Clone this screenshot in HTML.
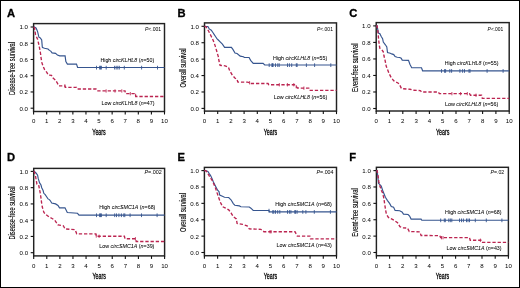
<!DOCTYPE html><html><head><meta charset="utf-8"><style>html,body{margin:0;padding:0;background:#fff;}svg{display:block;will-change:transform;}text{font-family:"Liberation Sans",sans-serif;}</style></head><body>
<svg width="520" height="288" viewBox="0 0 520 288">
<rect x="0" y="0" width="520" height="288" fill="#fff"/>
<rect x="0.5" y="0.5" width="519" height="287" fill="none" stroke="#000" stroke-width="1"/>
<g><text x="7" y="16.9" font-size="11.2" font-weight="bold" fill="#000" stroke="#000" stroke-width="0.3">A</text><rect x="33.6" y="23.6" width="130.9" height="87.9" fill="none" stroke="#222" stroke-width="1.45"/><line x1="30.6" y1="108.2" x2="33.6" y2="108.2" stroke="#111" stroke-width="1.1"/><text x="28" y="110.6" font-size="6.1" text-anchor="end" fill="#000">0.0</text><line x1="30.6" y1="91.96" x2="33.6" y2="91.96" stroke="#111" stroke-width="1.1"/><text x="28" y="94.36" font-size="6.1" text-anchor="end" fill="#000">0.2</text><line x1="30.6" y1="75.72" x2="33.6" y2="75.72" stroke="#111" stroke-width="1.1"/><text x="28" y="78.12" font-size="6.1" text-anchor="end" fill="#000">0.4</text><line x1="30.6" y1="59.48" x2="33.6" y2="59.48" stroke="#111" stroke-width="1.1"/><text x="28" y="61.88" font-size="6.1" text-anchor="end" fill="#000">0.6</text><line x1="30.6" y1="43.24" x2="33.6" y2="43.24" stroke="#111" stroke-width="1.1"/><text x="28" y="45.64" font-size="6.1" text-anchor="end" fill="#000">0.8</text><line x1="30.6" y1="27" x2="33.6" y2="27" stroke="#111" stroke-width="1.1"/><text x="28" y="29.4" font-size="6.1" text-anchor="end" fill="#000">1.0</text><line x1="33.6" y1="111.5" x2="33.6" y2="114.5" stroke="#111" stroke-width="1.1"/><text x="33.6" y="123.3" font-size="6.1" text-anchor="middle" fill="#000">0</text><line x1="46.69" y1="111.5" x2="46.69" y2="114.5" stroke="#111" stroke-width="1.1"/><text x="46.69" y="123.3" font-size="6.1" text-anchor="middle" fill="#000">1</text><line x1="59.78" y1="111.5" x2="59.78" y2="114.5" stroke="#111" stroke-width="1.1"/><text x="59.78" y="123.3" font-size="6.1" text-anchor="middle" fill="#000">2</text><line x1="72.87" y1="111.5" x2="72.87" y2="114.5" stroke="#111" stroke-width="1.1"/><text x="72.87" y="123.3" font-size="6.1" text-anchor="middle" fill="#000">3</text><line x1="85.96" y1="111.5" x2="85.96" y2="114.5" stroke="#111" stroke-width="1.1"/><text x="85.96" y="123.3" font-size="6.1" text-anchor="middle" fill="#000">4</text><line x1="99.05" y1="111.5" x2="99.05" y2="114.5" stroke="#111" stroke-width="1.1"/><text x="99.05" y="123.3" font-size="6.1" text-anchor="middle" fill="#000">5</text><line x1="112.14" y1="111.5" x2="112.14" y2="114.5" stroke="#111" stroke-width="1.1"/><text x="112.14" y="123.3" font-size="6.1" text-anchor="middle" fill="#000">6</text><line x1="125.23" y1="111.5" x2="125.23" y2="114.5" stroke="#111" stroke-width="1.1"/><text x="125.23" y="123.3" font-size="6.1" text-anchor="middle" fill="#000">7</text><line x1="138.32" y1="111.5" x2="138.32" y2="114.5" stroke="#111" stroke-width="1.1"/><text x="138.32" y="123.3" font-size="6.1" text-anchor="middle" fill="#000">8</text><line x1="151.41" y1="111.5" x2="151.41" y2="114.5" stroke="#111" stroke-width="1.1"/><text x="151.41" y="123.3" font-size="6.1" text-anchor="middle" fill="#000">9</text><line x1="164.5" y1="111.5" x2="164.5" y2="114.5" stroke="#111" stroke-width="1.1"/><text x="164.5" y="123.3" font-size="6.1" text-anchor="middle" fill="#000">10</text><text x="99.05" y="134.6" font-size="8.8" text-anchor="middle" textLength="13.4" lengthAdjust="spacingAndGlyphs" fill="#000" stroke="#000" stroke-width="0.3">Years</text><text transform="translate(14.9,68.45) rotate(-90)" x="0" y="0" font-size="8.9" text-anchor="middle" textLength="53" lengthAdjust="spacingAndGlyphs" fill="#000" stroke="#000" stroke-width="0.1">Disease-free survival</text><text x="161.2" y="30.7" font-size="6.2" text-anchor="end" textLength="16.3" lengthAdjust="spacingAndGlyphs" fill="#000"><tspan font-style="italic">P</tspan><.001</text><text x="100.4" y="62" font-size="5.5" textLength="53.8" lengthAdjust="spacingAndGlyphs" fill="#000" stroke="#000" stroke-width="0.04">High <tspan font-style="italic">circKLHL8</tspan> (<tspan font-style="italic">n</tspan>=50)</text><text x="101.5" y="104.6" font-size="5.5" textLength="53.1" lengthAdjust="spacingAndGlyphs" fill="#000" stroke="#000" stroke-width="0.04">Low <tspan font-style="italic">circKLHL8</tspan> (<tspan font-style="italic">n</tspan>=47)</text><polyline points="33.6,27 34.5,27 36.2,28.2 37.6,31.6 38.9,37.2 40.3,37.9 41.7,40 42.3,47 42.6,47.6 44.5,48.3 48,49 49.4,50.4 50.75,51.1 52.1,52.9 55.6,53.4 57.4,55.1 59.7,55.85 65.1,55.85 65.85,61.5 67.4,64.1 76.5,64.1 77.6,67.5 164.5,67.5" fill="none" stroke="#36558f" stroke-width="1.15" stroke-linejoin="miter"/><polyline points="33.6,27 34.5,27.6 35.5,34.4 37.6,39.3 38.9,44.8 40.3,51.8 41,57.3 41.7,62.2 43.1,66.2 44.7,69.8 46.8,72.4 48.3,75.1 51.5,75.3 52.5,77.6 55.6,80.2 57.2,82.8 58.75,85.8 64.9,85.8 65.4,87.3 76.5,87.3 77.3,89 96,89 97,90.9 125,90.9 125.5,93.6 135.3,93.6 135.8,96.5 164.5,96.5" fill="none" stroke="#bb2450" stroke-width="1.35" stroke-dasharray="3.3 1.9" /><line x1="96.5" y1="65.8" x2="96.5" y2="69.5" stroke="#36558f" stroke-width="0.9"/><line x1="99.6" y1="65.8" x2="99.6" y2="69.5" stroke="#36558f" stroke-width="0.9"/><line x1="100.5" y1="65.8" x2="100.5" y2="69.5" stroke="#36558f" stroke-width="0.9"/><line x1="101.4" y1="65.8" x2="101.4" y2="69.5" stroke="#36558f" stroke-width="0.9"/><line x1="106.2" y1="65.8" x2="106.2" y2="69.5" stroke="#36558f" stroke-width="0.9"/><line x1="114.6" y1="65.8" x2="114.6" y2="69.5" stroke="#36558f" stroke-width="0.9"/><line x1="116.2" y1="65.8" x2="116.2" y2="69.5" stroke="#36558f" stroke-width="0.9"/><line x1="117.8" y1="65.8" x2="117.8" y2="69.5" stroke="#36558f" stroke-width="0.9"/><line x1="119.3" y1="65.8" x2="119.3" y2="69.5" stroke="#36558f" stroke-width="0.9"/><line x1="124.3" y1="65.8" x2="124.3" y2="69.5" stroke="#36558f" stroke-width="0.9"/><line x1="141.6" y1="65.8" x2="141.6" y2="69.5" stroke="#36558f" stroke-width="0.9"/><line x1="157.5" y1="65.8" x2="157.5" y2="69.5" stroke="#36558f" stroke-width="0.9"/><line x1="64.9" y1="84.2" x2="64.9" y2="87.5" stroke="#bb2450" stroke-width="0.85"/><line x1="106.1" y1="89.3" x2="106.1" y2="92.6" stroke="#bb2450" stroke-width="0.85"/><line x1="115" y1="89.3" x2="115" y2="92.6" stroke="#bb2450" stroke-width="0.85"/><line x1="121.8" y1="89.3" x2="121.8" y2="92.6" stroke="#bb2450" stroke-width="0.85"/><line x1="130.3" y1="92" x2="130.3" y2="95.3" stroke="#bb2450" stroke-width="0.85"/><line x1="135.6" y1="93.74" x2="135.6" y2="97.04" stroke="#bb2450" stroke-width="0.85"/></g>
<g><text x="177.6" y="16.9" font-size="11.2" font-weight="bold" fill="#000" stroke="#000" stroke-width="0.3">B</text><rect x="204.5" y="22.9" width="132" height="88.2" fill="none" stroke="#222" stroke-width="1.45"/><line x1="201.5" y1="108.4" x2="204.5" y2="108.4" stroke="#111" stroke-width="1.1"/><text x="198.9" y="110.8" font-size="6.1" text-anchor="end" fill="#000">0.0</text><line x1="201.5" y1="91.98" x2="204.5" y2="91.98" stroke="#111" stroke-width="1.1"/><text x="198.9" y="94.38" font-size="6.1" text-anchor="end" fill="#000">0.2</text><line x1="201.5" y1="75.56" x2="204.5" y2="75.56" stroke="#111" stroke-width="1.1"/><text x="198.9" y="77.96" font-size="6.1" text-anchor="end" fill="#000">0.4</text><line x1="201.5" y1="59.14" x2="204.5" y2="59.14" stroke="#111" stroke-width="1.1"/><text x="198.9" y="61.54" font-size="6.1" text-anchor="end" fill="#000">0.6</text><line x1="201.5" y1="42.72" x2="204.5" y2="42.72" stroke="#111" stroke-width="1.1"/><text x="198.9" y="45.12" font-size="6.1" text-anchor="end" fill="#000">0.8</text><line x1="201.5" y1="26.3" x2="204.5" y2="26.3" stroke="#111" stroke-width="1.1"/><text x="198.9" y="28.7" font-size="6.1" text-anchor="end" fill="#000">1.0</text><line x1="204.5" y1="111.1" x2="204.5" y2="114.1" stroke="#111" stroke-width="1.1"/><text x="204.5" y="122.9" font-size="6.1" text-anchor="middle" fill="#000">0</text><line x1="217.7" y1="111.1" x2="217.7" y2="114.1" stroke="#111" stroke-width="1.1"/><text x="217.7" y="122.9" font-size="6.1" text-anchor="middle" fill="#000">1</text><line x1="230.9" y1="111.1" x2="230.9" y2="114.1" stroke="#111" stroke-width="1.1"/><text x="230.9" y="122.9" font-size="6.1" text-anchor="middle" fill="#000">2</text><line x1="244.1" y1="111.1" x2="244.1" y2="114.1" stroke="#111" stroke-width="1.1"/><text x="244.1" y="122.9" font-size="6.1" text-anchor="middle" fill="#000">3</text><line x1="257.3" y1="111.1" x2="257.3" y2="114.1" stroke="#111" stroke-width="1.1"/><text x="257.3" y="122.9" font-size="6.1" text-anchor="middle" fill="#000">4</text><line x1="270.5" y1="111.1" x2="270.5" y2="114.1" stroke="#111" stroke-width="1.1"/><text x="270.5" y="122.9" font-size="6.1" text-anchor="middle" fill="#000">5</text><line x1="283.7" y1="111.1" x2="283.7" y2="114.1" stroke="#111" stroke-width="1.1"/><text x="283.7" y="122.9" font-size="6.1" text-anchor="middle" fill="#000">6</text><line x1="296.9" y1="111.1" x2="296.9" y2="114.1" stroke="#111" stroke-width="1.1"/><text x="296.9" y="122.9" font-size="6.1" text-anchor="middle" fill="#000">7</text><line x1="310.1" y1="111.1" x2="310.1" y2="114.1" stroke="#111" stroke-width="1.1"/><text x="310.1" y="122.9" font-size="6.1" text-anchor="middle" fill="#000">8</text><line x1="323.3" y1="111.1" x2="323.3" y2="114.1" stroke="#111" stroke-width="1.1"/><text x="323.3" y="122.9" font-size="6.1" text-anchor="middle" fill="#000">9</text><line x1="336.5" y1="111.1" x2="336.5" y2="114.1" stroke="#111" stroke-width="1.1"/><text x="336.5" y="122.9" font-size="6.1" text-anchor="middle" fill="#000">10</text><text x="270.5" y="134.6" font-size="8.8" text-anchor="middle" textLength="13.4" lengthAdjust="spacingAndGlyphs" fill="#000" stroke="#000" stroke-width="0.3">Years</text><text transform="translate(185.7,67.9) rotate(-90)" x="0" y="0" font-size="8.9" text-anchor="middle" textLength="39" lengthAdjust="spacingAndGlyphs" fill="#000" stroke="#000" stroke-width="0.1">Overall survival</text><text x="332.9" y="30.7" font-size="6.2" text-anchor="end" textLength="15.9" lengthAdjust="spacingAndGlyphs" fill="#000"><tspan font-style="italic">P</tspan><.001</text><text x="273" y="59.5" font-size="5.5" textLength="54.3" lengthAdjust="spacingAndGlyphs" fill="#000" stroke="#000" stroke-width="0.04">High <tspan font-style="italic">circKLHL8</tspan> (<tspan font-style="italic">n</tspan>=55)</text><text x="273.8" y="98.5" font-size="5.5" textLength="53.5" lengthAdjust="spacingAndGlyphs" fill="#000" stroke="#000" stroke-width="0.04">Low <tspan font-style="italic">circKLHL8</tspan> (<tspan font-style="italic">n</tspan>=56)</text><polyline points="204.5,26.3 205.5,26.5 207.9,26.5 209.25,28.9 211.3,30.25 212.7,32.3 214.1,34.4 215.5,36.5 216.9,38.6 218.3,40 220.4,42.1 222.4,44.1 224.6,47.3 231.4,47.3 232.9,49.4 235,53 237.1,53.5 240.2,56.1 243.4,56.7 244.4,57.5 249.1,57.5 250.6,60.3 253.25,63.4 263.1,63.4 264.7,65 336.5,65" fill="none" stroke="#36558f" stroke-width="1.15" stroke-linejoin="miter"/><polyline points="204.5,26.3 205.8,26.5 207.2,28.9 208.6,31 209.9,33.7 211.3,36.5 212.7,39.3 214.1,42.75 215.5,46.9 216.9,51.8 218.3,56.6 219,61 220.1,65.4 225.1,65.8 228.4,67.1 229.6,70.4 231.8,74.3 234.6,77.7 236.8,79.3 237.9,82.1 247.3,82.1 249.6,82.7 250,83.5 268,83.5 268.9,84.7 294.4,84.7 297.5,88 308.8,88.2 309.6,90.4 336.5,90.4" fill="none" stroke="#bb2450" stroke-width="1.35" stroke-dasharray="3.3 1.9" /><line x1="269.2" y1="63.3" x2="269.2" y2="67" stroke="#36558f" stroke-width="0.9"/><line x1="271.9" y1="63.3" x2="271.9" y2="67" stroke="#36558f" stroke-width="0.9"/><line x1="272.5" y1="63.3" x2="272.5" y2="67" stroke="#36558f" stroke-width="0.9"/><line x1="273.1" y1="63.3" x2="273.1" y2="67" stroke="#36558f" stroke-width="0.9"/><line x1="275.5" y1="63.3" x2="275.5" y2="67" stroke="#36558f" stroke-width="0.9"/><line x1="277.8" y1="63.3" x2="277.8" y2="67" stroke="#36558f" stroke-width="0.9"/><line x1="279.2" y1="63.3" x2="279.2" y2="67" stroke="#36558f" stroke-width="0.9"/><line x1="287.5" y1="63.3" x2="287.5" y2="67" stroke="#36558f" stroke-width="0.9"/><line x1="289.4" y1="63.3" x2="289.4" y2="67" stroke="#36558f" stroke-width="0.9"/><line x1="291.7" y1="63.3" x2="291.7" y2="67" stroke="#36558f" stroke-width="0.9"/><line x1="296.3" y1="63.3" x2="296.3" y2="67" stroke="#36558f" stroke-width="0.9"/><line x1="297.1" y1="63.3" x2="297.1" y2="67" stroke="#36558f" stroke-width="0.9"/><line x1="306.4" y1="63.3" x2="306.4" y2="67" stroke="#36558f" stroke-width="0.9"/><line x1="314.6" y1="63.3" x2="314.6" y2="67" stroke="#36558f" stroke-width="0.9"/><line x1="330.8" y1="63.3" x2="330.8" y2="67" stroke="#36558f" stroke-width="0.9"/><line x1="249.6" y1="81.1" x2="249.6" y2="84.4" stroke="#bb2450" stroke-width="0.85"/><line x1="279.3" y1="83.1" x2="279.3" y2="86.4" stroke="#bb2450" stroke-width="0.85"/><line x1="287.4" y1="83.1" x2="287.4" y2="86.4" stroke="#bb2450" stroke-width="0.85"/><line x1="293.8" y1="83.1" x2="293.8" y2="86.4" stroke="#bb2450" stroke-width="0.85"/><line x1="296.2" y1="85.02" x2="296.2" y2="88.32" stroke="#bb2450" stroke-width="0.85"/><line x1="303.9" y1="86.51" x2="303.9" y2="89.81" stroke="#bb2450" stroke-width="0.85"/></g>
<g><text x="349.2" y="16.9" font-size="11.2" font-weight="bold" fill="#000" stroke="#000" stroke-width="0.3">C</text><rect x="376.2" y="22.6" width="133" height="88.4" fill="none" stroke="#222" stroke-width="1.45"/><line x1="373.2" y1="108.5" x2="376.2" y2="108.5" stroke="#111" stroke-width="1.1"/><text x="370.6" y="110.9" font-size="6.1" text-anchor="end" fill="#000">0.0</text><line x1="373.2" y1="91.98" x2="376.2" y2="91.98" stroke="#111" stroke-width="1.1"/><text x="370.6" y="94.38" font-size="6.1" text-anchor="end" fill="#000">0.2</text><line x1="373.2" y1="75.46" x2="376.2" y2="75.46" stroke="#111" stroke-width="1.1"/><text x="370.6" y="77.86" font-size="6.1" text-anchor="end" fill="#000">0.4</text><line x1="373.2" y1="58.94" x2="376.2" y2="58.94" stroke="#111" stroke-width="1.1"/><text x="370.6" y="61.34" font-size="6.1" text-anchor="end" fill="#000">0.6</text><line x1="373.2" y1="42.42" x2="376.2" y2="42.42" stroke="#111" stroke-width="1.1"/><text x="370.6" y="44.82" font-size="6.1" text-anchor="end" fill="#000">0.8</text><line x1="373.2" y1="25.9" x2="376.2" y2="25.9" stroke="#111" stroke-width="1.1"/><text x="370.6" y="28.3" font-size="6.1" text-anchor="end" fill="#000">1.0</text><line x1="376.2" y1="111" x2="376.2" y2="114" stroke="#111" stroke-width="1.1"/><text x="376.2" y="122.8" font-size="6.1" text-anchor="middle" fill="#000">0</text><line x1="389.5" y1="111" x2="389.5" y2="114" stroke="#111" stroke-width="1.1"/><text x="389.5" y="122.8" font-size="6.1" text-anchor="middle" fill="#000">1</text><line x1="402.8" y1="111" x2="402.8" y2="114" stroke="#111" stroke-width="1.1"/><text x="402.8" y="122.8" font-size="6.1" text-anchor="middle" fill="#000">2</text><line x1="416.1" y1="111" x2="416.1" y2="114" stroke="#111" stroke-width="1.1"/><text x="416.1" y="122.8" font-size="6.1" text-anchor="middle" fill="#000">3</text><line x1="429.4" y1="111" x2="429.4" y2="114" stroke="#111" stroke-width="1.1"/><text x="429.4" y="122.8" font-size="6.1" text-anchor="middle" fill="#000">4</text><line x1="442.7" y1="111" x2="442.7" y2="114" stroke="#111" stroke-width="1.1"/><text x="442.7" y="122.8" font-size="6.1" text-anchor="middle" fill="#000">5</text><line x1="456" y1="111" x2="456" y2="114" stroke="#111" stroke-width="1.1"/><text x="456" y="122.8" font-size="6.1" text-anchor="middle" fill="#000">6</text><line x1="469.3" y1="111" x2="469.3" y2="114" stroke="#111" stroke-width="1.1"/><text x="469.3" y="122.8" font-size="6.1" text-anchor="middle" fill="#000">7</text><line x1="482.6" y1="111" x2="482.6" y2="114" stroke="#111" stroke-width="1.1"/><text x="482.6" y="122.8" font-size="6.1" text-anchor="middle" fill="#000">8</text><line x1="495.9" y1="111" x2="495.9" y2="114" stroke="#111" stroke-width="1.1"/><text x="495.9" y="122.8" font-size="6.1" text-anchor="middle" fill="#000">9</text><line x1="509.2" y1="111" x2="509.2" y2="114" stroke="#111" stroke-width="1.1"/><text x="509.2" y="122.8" font-size="6.1" text-anchor="middle" fill="#000">10</text><text x="442.7" y="134.6" font-size="8.8" text-anchor="middle" textLength="13.4" lengthAdjust="spacingAndGlyphs" fill="#000" stroke="#000" stroke-width="0.3">Years</text><text transform="translate(358.1,67.7) rotate(-90)" x="0" y="0" font-size="8.9" text-anchor="middle" textLength="48.5" lengthAdjust="spacingAndGlyphs" fill="#000" stroke="#000" stroke-width="0.1">Event-free survival</text><text x="503.3" y="30.7" font-size="6.2" text-anchor="end" textLength="15.7" lengthAdjust="spacingAndGlyphs" fill="#000"><tspan font-style="italic">P</tspan><.001</text><text x="444.7" y="65" font-size="5.5" textLength="53.8" lengthAdjust="spacingAndGlyphs" fill="#000" stroke="#000" stroke-width="0.04">High <tspan font-style="italic">circKLHL8</tspan> (<tspan font-style="italic">n</tspan>=55)</text><text x="444.9" y="105.7" font-size="5.5" textLength="53.5" lengthAdjust="spacingAndGlyphs" fill="#000" stroke="#000" stroke-width="0.04">Low <tspan font-style="italic">circKLHL8</tspan> (<tspan font-style="italic">n</tspan>=56)</text><polyline points="376.2,25.9 377.1,25.9 377.8,29.6 378.5,33 379.9,33.7 381.25,36.5 382.6,38.6 383.3,42 385.4,44.8 386.8,46.9 387.5,52.5 390.3,53.2 391.7,53.9 393.75,54.6 395.1,56.6 397.2,57.3 399.7,57.5 401.2,58.3 402.2,60.1 408.5,60.4 409.9,64.25 411.7,67.7 421.5,67.7 422.6,70.8 509.2,70.8" fill="none" stroke="#36558f" stroke-width="1.15" stroke-linejoin="miter"/><polyline points="376.2,25.9 377.1,25.9 377.8,30.9 378.5,37.9 379.2,44.8 379.9,48.3 381.9,49.7 383.3,51.8 384,56 384.9,59.4 386.25,66.3 389,73.3 391.1,77.4 393.9,80.9 398,83 399.4,84.4 401.5,88.6 409.9,89.25 413.3,90.2 420.3,90.6 421.7,92 438.3,92 439.3,93.6 469.5,93.6 470.5,95.2 481.6,95.2 482.3,98.3 509.2,98.3" fill="none" stroke="#bb2450" stroke-width="1.35" stroke-dasharray="3.3 1.9" /><line x1="441.5" y1="69.1" x2="441.5" y2="72.8" stroke="#36558f" stroke-width="0.9"/><line x1="444.6" y1="69.1" x2="444.6" y2="72.8" stroke="#36558f" stroke-width="0.9"/><line x1="445.6" y1="69.1" x2="445.6" y2="72.8" stroke="#36558f" stroke-width="0.9"/><line x1="449.8" y1="69.1" x2="449.8" y2="72.8" stroke="#36558f" stroke-width="0.9"/><line x1="451.6" y1="69.1" x2="451.6" y2="72.8" stroke="#36558f" stroke-width="0.9"/><line x1="459.9" y1="69.1" x2="459.9" y2="72.8" stroke="#36558f" stroke-width="0.9"/><line x1="462.6" y1="69.1" x2="462.6" y2="72.8" stroke="#36558f" stroke-width="0.9"/><line x1="464.5" y1="69.1" x2="464.5" y2="72.8" stroke="#36558f" stroke-width="0.9"/><line x1="469" y1="69.1" x2="469" y2="72.8" stroke="#36558f" stroke-width="0.9"/><line x1="470" y1="69.1" x2="470" y2="72.8" stroke="#36558f" stroke-width="0.9"/><line x1="487.1" y1="69.1" x2="487.1" y2="72.8" stroke="#36558f" stroke-width="0.9"/><line x1="503.1" y1="69.1" x2="503.1" y2="72.8" stroke="#36558f" stroke-width="0.9"/><line x1="451.9" y1="92" x2="451.9" y2="95.3" stroke="#bb2450" stroke-width="0.85"/><line x1="460.6" y1="92" x2="460.6" y2="95.3" stroke="#bb2450" stroke-width="0.85"/><line x1="467.3" y1="92" x2="467.3" y2="95.3" stroke="#bb2450" stroke-width="0.85"/><line x1="476" y1="93.6" x2="476" y2="96.9" stroke="#bb2450" stroke-width="0.85"/></g>
<g><text x="7" y="161.2" font-size="11.2" font-weight="bold" fill="#000" stroke="#000" stroke-width="0.3">D</text><rect x="33.7" y="168.4" width="130.9" height="87.5" fill="none" stroke="#222" stroke-width="1.45"/><line x1="30.7" y1="252.7" x2="33.7" y2="252.7" stroke="#111" stroke-width="1.1"/><text x="28.1" y="255.1" font-size="6.1" text-anchor="end" fill="#000">0.0</text><line x1="30.7" y1="236.44" x2="33.7" y2="236.44" stroke="#111" stroke-width="1.1"/><text x="28.1" y="238.84" font-size="6.1" text-anchor="end" fill="#000">0.2</text><line x1="30.7" y1="220.18" x2="33.7" y2="220.18" stroke="#111" stroke-width="1.1"/><text x="28.1" y="222.58" font-size="6.1" text-anchor="end" fill="#000">0.4</text><line x1="30.7" y1="203.92" x2="33.7" y2="203.92" stroke="#111" stroke-width="1.1"/><text x="28.1" y="206.32" font-size="6.1" text-anchor="end" fill="#000">0.6</text><line x1="30.7" y1="187.66" x2="33.7" y2="187.66" stroke="#111" stroke-width="1.1"/><text x="28.1" y="190.06" font-size="6.1" text-anchor="end" fill="#000">0.8</text><line x1="30.7" y1="171.4" x2="33.7" y2="171.4" stroke="#111" stroke-width="1.1"/><text x="28.1" y="173.8" font-size="6.1" text-anchor="end" fill="#000">1.0</text><line x1="33.7" y1="255.9" x2="33.7" y2="258.9" stroke="#111" stroke-width="1.1"/><text x="33.7" y="267.7" font-size="6.1" text-anchor="middle" fill="#000">0</text><line x1="46.79" y1="255.9" x2="46.79" y2="258.9" stroke="#111" stroke-width="1.1"/><text x="46.79" y="267.7" font-size="6.1" text-anchor="middle" fill="#000">1</text><line x1="59.88" y1="255.9" x2="59.88" y2="258.9" stroke="#111" stroke-width="1.1"/><text x="59.88" y="267.7" font-size="6.1" text-anchor="middle" fill="#000">2</text><line x1="72.97" y1="255.9" x2="72.97" y2="258.9" stroke="#111" stroke-width="1.1"/><text x="72.97" y="267.7" font-size="6.1" text-anchor="middle" fill="#000">3</text><line x1="86.06" y1="255.9" x2="86.06" y2="258.9" stroke="#111" stroke-width="1.1"/><text x="86.06" y="267.7" font-size="6.1" text-anchor="middle" fill="#000">4</text><line x1="99.15" y1="255.9" x2="99.15" y2="258.9" stroke="#111" stroke-width="1.1"/><text x="99.15" y="267.7" font-size="6.1" text-anchor="middle" fill="#000">5</text><line x1="112.24" y1="255.9" x2="112.24" y2="258.9" stroke="#111" stroke-width="1.1"/><text x="112.24" y="267.7" font-size="6.1" text-anchor="middle" fill="#000">6</text><line x1="125.33" y1="255.9" x2="125.33" y2="258.9" stroke="#111" stroke-width="1.1"/><text x="125.33" y="267.7" font-size="6.1" text-anchor="middle" fill="#000">7</text><line x1="138.42" y1="255.9" x2="138.42" y2="258.9" stroke="#111" stroke-width="1.1"/><text x="138.42" y="267.7" font-size="6.1" text-anchor="middle" fill="#000">8</text><line x1="151.51" y1="255.9" x2="151.51" y2="258.9" stroke="#111" stroke-width="1.1"/><text x="151.51" y="267.7" font-size="6.1" text-anchor="middle" fill="#000">9</text><line x1="164.6" y1="255.9" x2="164.6" y2="258.9" stroke="#111" stroke-width="1.1"/><text x="164.6" y="267.7" font-size="6.1" text-anchor="middle" fill="#000">10</text><text x="99.15" y="279" font-size="8.8" text-anchor="middle" textLength="13.4" lengthAdjust="spacingAndGlyphs" fill="#000" stroke="#000" stroke-width="0.3">Years</text><text transform="translate(14.9,213.05) rotate(-90)" x="0" y="0" font-size="8.9" text-anchor="middle" textLength="53" lengthAdjust="spacingAndGlyphs" fill="#000" stroke="#000" stroke-width="0.1">Disease-free survival</text><text x="161.8" y="174.4" font-size="6.2" text-anchor="end" textLength="17.3" lengthAdjust="spacingAndGlyphs" fill="#000"><tspan font-style="italic">P</tspan>=.002</text><text x="99.3" y="208.9" font-size="5.5" textLength="56.1" lengthAdjust="spacingAndGlyphs" fill="#000" stroke="#000" stroke-width="0.04">High <tspan font-style="italic">circSMC1A</tspan> (<tspan font-style="italic">n</tspan>=68)</text><text x="99.3" y="248.3" font-size="5.5" textLength="55.1" lengthAdjust="spacingAndGlyphs" fill="#000" stroke="#000" stroke-width="0.04">Low <tspan font-style="italic">circSMC1A</tspan> (<tspan font-style="italic">n</tspan>=39)</text><polyline points="33.7,171.4 34.5,171.5 36.2,173.2 37.6,175.25 38.25,178.7 39.6,182.9 41,185 41.7,187.75 43.1,190.5 43.8,193.3 45.2,194.7 46.6,196.8 48,198.9 49.4,199.6 50.2,200.5 51.7,203.1 55.6,203.9 58,205.5 59.5,207.8 65,207.8 67.3,212.5 77.5,213.3 79,215.1 164.6,215.1" fill="none" stroke="#36558f" stroke-width="1.15" stroke-linejoin="miter"/><polyline points="33.7,171.4 34.1,171.4 35.5,175.9 36.2,180.1 36.9,184 38.6,184.6 39.6,189.8 40.3,193.3 41,198.2 41.7,203.7 42.3,207 43.9,212.5 46.25,214.8 49.4,217.2 52.5,218.75 54.8,220.3 58,225 63.4,225.8 65,228.9 75.2,229.7 76.7,233.8 95.9,233.8 96.3,236.25 124.4,236.25 125,238.7 135.6,238.7 136.2,241.5 164.6,241.5" fill="none" stroke="#bb2450" stroke-width="1.35" stroke-dasharray="3.3 1.9" /><line x1="96.5" y1="213.4" x2="96.5" y2="217.1" stroke="#36558f" stroke-width="0.9"/><line x1="99.6" y1="213.4" x2="99.6" y2="217.1" stroke="#36558f" stroke-width="0.9"/><line x1="100.5" y1="213.4" x2="100.5" y2="217.1" stroke="#36558f" stroke-width="0.9"/><line x1="101.4" y1="213.4" x2="101.4" y2="217.1" stroke="#36558f" stroke-width="0.9"/><line x1="106.2" y1="213.4" x2="106.2" y2="217.1" stroke="#36558f" stroke-width="0.9"/><line x1="114.7" y1="213.4" x2="114.7" y2="217.1" stroke="#36558f" stroke-width="0.9"/><line x1="116.5" y1="213.4" x2="116.5" y2="217.1" stroke="#36558f" stroke-width="0.9"/><line x1="118.9" y1="213.4" x2="118.9" y2="217.1" stroke="#36558f" stroke-width="0.9"/><line x1="121.4" y1="213.4" x2="121.4" y2="217.1" stroke="#36558f" stroke-width="0.9"/><line x1="123.8" y1="213.4" x2="123.8" y2="217.1" stroke="#36558f" stroke-width="0.9"/><line x1="124.8" y1="213.4" x2="124.8" y2="217.1" stroke="#36558f" stroke-width="0.9"/><line x1="130.1" y1="213.4" x2="130.1" y2="217.1" stroke="#36558f" stroke-width="0.9"/><line x1="141.5" y1="213.4" x2="141.5" y2="217.1" stroke="#36558f" stroke-width="0.9"/><line x1="157.1" y1="213.4" x2="157.1" y2="217.1" stroke="#36558f" stroke-width="0.9"/><line x1="96.25" y1="234.34" x2="96.25" y2="237.64" stroke="#bb2450" stroke-width="0.85"/><line x1="99.1" y1="234.65" x2="99.1" y2="237.95" stroke="#bb2450" stroke-width="0.85"/><line x1="135.4" y1="237.1" x2="135.4" y2="240.4" stroke="#bb2450" stroke-width="0.85"/></g>
<g><text x="177.6" y="161.2" font-size="11.2" font-weight="bold" fill="#000" stroke="#000" stroke-width="0.3">E</text><rect x="204.4" y="167.4" width="132.1" height="88.3" fill="none" stroke="#222" stroke-width="1.45"/><line x1="201.4" y1="252.5" x2="204.4" y2="252.5" stroke="#111" stroke-width="1.1"/><text x="198.8" y="254.9" font-size="6.1" text-anchor="end" fill="#000">0.0</text><line x1="201.4" y1="236.12" x2="204.4" y2="236.12" stroke="#111" stroke-width="1.1"/><text x="198.8" y="238.52" font-size="6.1" text-anchor="end" fill="#000">0.2</text><line x1="201.4" y1="219.74" x2="204.4" y2="219.74" stroke="#111" stroke-width="1.1"/><text x="198.8" y="222.14" font-size="6.1" text-anchor="end" fill="#000">0.4</text><line x1="201.4" y1="203.36" x2="204.4" y2="203.36" stroke="#111" stroke-width="1.1"/><text x="198.8" y="205.76" font-size="6.1" text-anchor="end" fill="#000">0.6</text><line x1="201.4" y1="186.98" x2="204.4" y2="186.98" stroke="#111" stroke-width="1.1"/><text x="198.8" y="189.38" font-size="6.1" text-anchor="end" fill="#000">0.8</text><line x1="201.4" y1="170.6" x2="204.4" y2="170.6" stroke="#111" stroke-width="1.1"/><text x="198.8" y="173" font-size="6.1" text-anchor="end" fill="#000">1.0</text><line x1="204.4" y1="255.7" x2="204.4" y2="258.7" stroke="#111" stroke-width="1.1"/><text x="204.4" y="267.5" font-size="6.1" text-anchor="middle" fill="#000">0</text><line x1="217.61" y1="255.7" x2="217.61" y2="258.7" stroke="#111" stroke-width="1.1"/><text x="217.61" y="267.5" font-size="6.1" text-anchor="middle" fill="#000">1</text><line x1="230.82" y1="255.7" x2="230.82" y2="258.7" stroke="#111" stroke-width="1.1"/><text x="230.82" y="267.5" font-size="6.1" text-anchor="middle" fill="#000">2</text><line x1="244.03" y1="255.7" x2="244.03" y2="258.7" stroke="#111" stroke-width="1.1"/><text x="244.03" y="267.5" font-size="6.1" text-anchor="middle" fill="#000">3</text><line x1="257.24" y1="255.7" x2="257.24" y2="258.7" stroke="#111" stroke-width="1.1"/><text x="257.24" y="267.5" font-size="6.1" text-anchor="middle" fill="#000">4</text><line x1="270.45" y1="255.7" x2="270.45" y2="258.7" stroke="#111" stroke-width="1.1"/><text x="270.45" y="267.5" font-size="6.1" text-anchor="middle" fill="#000">5</text><line x1="283.66" y1="255.7" x2="283.66" y2="258.7" stroke="#111" stroke-width="1.1"/><text x="283.66" y="267.5" font-size="6.1" text-anchor="middle" fill="#000">6</text><line x1="296.87" y1="255.7" x2="296.87" y2="258.7" stroke="#111" stroke-width="1.1"/><text x="296.87" y="267.5" font-size="6.1" text-anchor="middle" fill="#000">7</text><line x1="310.08" y1="255.7" x2="310.08" y2="258.7" stroke="#111" stroke-width="1.1"/><text x="310.08" y="267.5" font-size="6.1" text-anchor="middle" fill="#000">8</text><line x1="323.29" y1="255.7" x2="323.29" y2="258.7" stroke="#111" stroke-width="1.1"/><text x="323.29" y="267.5" font-size="6.1" text-anchor="middle" fill="#000">9</text><line x1="336.5" y1="255.7" x2="336.5" y2="258.7" stroke="#111" stroke-width="1.1"/><text x="336.5" y="267.5" font-size="6.1" text-anchor="middle" fill="#000">10</text><text x="270.45" y="279" font-size="8.8" text-anchor="middle" textLength="13.4" lengthAdjust="spacingAndGlyphs" fill="#000" stroke="#000" stroke-width="0.3">Years</text><text transform="translate(185.7,212.45) rotate(-90)" x="0" y="0" font-size="8.9" text-anchor="middle" textLength="39" lengthAdjust="spacingAndGlyphs" fill="#000" stroke="#000" stroke-width="0.1">Overall survival</text><text x="333.5" y="174.1" font-size="6.2" text-anchor="end" textLength="17" lengthAdjust="spacingAndGlyphs" fill="#000"><tspan font-style="italic">P</tspan>=.004</text><text x="275.3" y="205.8" font-size="5.5" textLength="56.6" lengthAdjust="spacingAndGlyphs" fill="#000" stroke="#000" stroke-width="0.04">High <tspan font-style="italic">circSMC1A</tspan> (<tspan font-style="italic">n</tspan>=68)</text><text x="276.6" y="246.6" font-size="5.5" textLength="55.1" lengthAdjust="spacingAndGlyphs" fill="#000" stroke="#000" stroke-width="0.04">Low <tspan font-style="italic">circSMC1A</tspan> (<tspan font-style="italic">n</tspan>=43)</text><polyline points="204.4,170.6 205.5,170.6 207.9,171.5 209.25,173.6 210.6,175.6 212,178.4 213.4,181.9 214.8,184.7 216.2,187.4 217.6,190.2 219,191.6 219.7,195.1 222.4,196.2 224.5,197.2 228.7,197.5 231,199.8 233.3,203.6 234.8,205.2 239.4,205.9 240.9,206.7 249.3,207 250.9,208.2 253.2,210.5 269,210.5 269.4,211.8 336.5,211.8" fill="none" stroke="#36558f" stroke-width="1.15" stroke-linejoin="miter"/><polyline points="204.4,170.6 205.8,170.6 207.9,173.6 209.9,177 211.3,179.1 212.7,181.2 214.1,184.7 215.5,188.1 216.9,192.3 218.3,196.5 220.3,202.1 222.6,206.7 225.6,208.2 228.7,209.8 231,212.8 233.3,216.6 236.3,218.9 237.1,223.5 242.5,224.3 247.1,225.8 249.3,228.9 260.8,229.3 263.9,231.7 295,231.7 297.3,236.1 309.9,236.1 310.5,238.8 336.5,238.8" fill="none" stroke="#bb2450" stroke-width="1.35" stroke-dasharray="3.3 1.9" /><line x1="269" y1="208.8" x2="269" y2="212.5" stroke="#36558f" stroke-width="0.9"/><line x1="272.8" y1="210.1" x2="272.8" y2="213.8" stroke="#36558f" stroke-width="0.9"/><line x1="273.8" y1="210.1" x2="273.8" y2="213.8" stroke="#36558f" stroke-width="0.9"/><line x1="275.5" y1="210.1" x2="275.5" y2="213.8" stroke="#36558f" stroke-width="0.9"/><line x1="277.7" y1="210.1" x2="277.7" y2="213.8" stroke="#36558f" stroke-width="0.9"/><line x1="279.8" y1="210.1" x2="279.8" y2="213.8" stroke="#36558f" stroke-width="0.9"/><line x1="287.5" y1="210.1" x2="287.5" y2="213.8" stroke="#36558f" stroke-width="0.9"/><line x1="289.4" y1="210.1" x2="289.4" y2="213.8" stroke="#36558f" stroke-width="0.9"/><line x1="290.9" y1="210.1" x2="290.9" y2="213.8" stroke="#36558f" stroke-width="0.9"/><line x1="294.8" y1="210.1" x2="294.8" y2="213.8" stroke="#36558f" stroke-width="0.9"/><line x1="295.6" y1="210.1" x2="295.6" y2="213.8" stroke="#36558f" stroke-width="0.9"/><line x1="297.1" y1="210.1" x2="297.1" y2="213.8" stroke="#36558f" stroke-width="0.9"/><line x1="302.8" y1="210.1" x2="302.8" y2="213.8" stroke="#36558f" stroke-width="0.9"/><line x1="305.9" y1="210.1" x2="305.9" y2="213.8" stroke="#36558f" stroke-width="0.9"/><line x1="314.3" y1="210.1" x2="314.3" y2="213.8" stroke="#36558f" stroke-width="0.9"/><line x1="330.4" y1="210.1" x2="330.4" y2="213.8" stroke="#36558f" stroke-width="0.9"/><line x1="270" y1="230.1" x2="270" y2="233.4" stroke="#bb2450" stroke-width="0.85"/><line x1="271.1" y1="230.1" x2="271.1" y2="233.4" stroke="#bb2450" stroke-width="0.85"/></g>
<g><text x="349.2" y="161.2" font-size="11.2" font-weight="bold" fill="#000" stroke="#000" stroke-width="0.3">F</text><rect x="376.4" y="167.3" width="132" height="88.4" fill="none" stroke="#222" stroke-width="1.45"/><line x1="373.4" y1="252.5" x2="376.4" y2="252.5" stroke="#111" stroke-width="1.1"/><text x="370.8" y="254.9" font-size="6.1" text-anchor="end" fill="#000">0.0</text><line x1="373.4" y1="236.12" x2="376.4" y2="236.12" stroke="#111" stroke-width="1.1"/><text x="370.8" y="238.52" font-size="6.1" text-anchor="end" fill="#000">0.2</text><line x1="373.4" y1="219.74" x2="376.4" y2="219.74" stroke="#111" stroke-width="1.1"/><text x="370.8" y="222.14" font-size="6.1" text-anchor="end" fill="#000">0.4</text><line x1="373.4" y1="203.36" x2="376.4" y2="203.36" stroke="#111" stroke-width="1.1"/><text x="370.8" y="205.76" font-size="6.1" text-anchor="end" fill="#000">0.6</text><line x1="373.4" y1="186.98" x2="376.4" y2="186.98" stroke="#111" stroke-width="1.1"/><text x="370.8" y="189.38" font-size="6.1" text-anchor="end" fill="#000">0.8</text><line x1="373.4" y1="170.6" x2="376.4" y2="170.6" stroke="#111" stroke-width="1.1"/><text x="370.8" y="173" font-size="6.1" text-anchor="end" fill="#000">1.0</text><line x1="376.4" y1="255.7" x2="376.4" y2="258.7" stroke="#111" stroke-width="1.1"/><text x="376.4" y="267.5" font-size="6.1" text-anchor="middle" fill="#000">0</text><line x1="389.6" y1="255.7" x2="389.6" y2="258.7" stroke="#111" stroke-width="1.1"/><text x="389.6" y="267.5" font-size="6.1" text-anchor="middle" fill="#000">1</text><line x1="402.8" y1="255.7" x2="402.8" y2="258.7" stroke="#111" stroke-width="1.1"/><text x="402.8" y="267.5" font-size="6.1" text-anchor="middle" fill="#000">2</text><line x1="416" y1="255.7" x2="416" y2="258.7" stroke="#111" stroke-width="1.1"/><text x="416" y="267.5" font-size="6.1" text-anchor="middle" fill="#000">3</text><line x1="429.2" y1="255.7" x2="429.2" y2="258.7" stroke="#111" stroke-width="1.1"/><text x="429.2" y="267.5" font-size="6.1" text-anchor="middle" fill="#000">4</text><line x1="442.4" y1="255.7" x2="442.4" y2="258.7" stroke="#111" stroke-width="1.1"/><text x="442.4" y="267.5" font-size="6.1" text-anchor="middle" fill="#000">5</text><line x1="455.6" y1="255.7" x2="455.6" y2="258.7" stroke="#111" stroke-width="1.1"/><text x="455.6" y="267.5" font-size="6.1" text-anchor="middle" fill="#000">6</text><line x1="468.8" y1="255.7" x2="468.8" y2="258.7" stroke="#111" stroke-width="1.1"/><text x="468.8" y="267.5" font-size="6.1" text-anchor="middle" fill="#000">7</text><line x1="482" y1="255.7" x2="482" y2="258.7" stroke="#111" stroke-width="1.1"/><text x="482" y="267.5" font-size="6.1" text-anchor="middle" fill="#000">8</text><line x1="495.2" y1="255.7" x2="495.2" y2="258.7" stroke="#111" stroke-width="1.1"/><text x="495.2" y="267.5" font-size="6.1" text-anchor="middle" fill="#000">9</text><line x1="508.4" y1="255.7" x2="508.4" y2="258.7" stroke="#111" stroke-width="1.1"/><text x="508.4" y="267.5" font-size="6.1" text-anchor="middle" fill="#000">10</text><text x="442.4" y="279" font-size="8.8" text-anchor="middle" textLength="13.4" lengthAdjust="spacingAndGlyphs" fill="#000" stroke="#000" stroke-width="0.3">Years</text><text transform="translate(358.1,212.4) rotate(-90)" x="0" y="0" font-size="8.9" text-anchor="middle" textLength="48.5" lengthAdjust="spacingAndGlyphs" fill="#000" stroke="#000" stroke-width="0.1">Event-free survival</text><text x="504.2" y="174.1" font-size="6.2" text-anchor="end" textLength="13.7" lengthAdjust="spacingAndGlyphs" fill="#000"><tspan font-style="italic">P</tspan>=.02</text><text x="445.1" y="214.2" font-size="5.5" textLength="56.5" lengthAdjust="spacingAndGlyphs" fill="#000" stroke="#000" stroke-width="0.04">High <tspan font-style="italic">circSMC1A</tspan> (<tspan font-style="italic">n</tspan>=68)</text><text x="446.6" y="250" font-size="5.5" textLength="55" lengthAdjust="spacingAndGlyphs" fill="#000" stroke="#000" stroke-width="0.04">Low <tspan font-style="italic">circSMC1A</tspan> (<tspan font-style="italic">n</tspan>=43)</text><polyline points="376.4,170.6 377.1,170.6 377.8,176.3 378.5,183.3 379.9,184.7 381.25,186 382.6,190.2 384,193.7 385.4,197.2 387.5,200.6 389.6,203.4 391.3,206.5 393.6,207.3 395.1,210.4 399.7,210.7 402,211.9 403.5,214.1 408.1,214.5 409.6,216 411.1,219.1 421.1,219.1 421.8,220.2 508.4,220.2" fill="none" stroke="#36558f" stroke-width="1.15" stroke-linejoin="miter"/><polyline points="376.4,170.6 377.1,170.6 378.1,176.3 378.9,181.9 379.9,186 381.25,190.2 382.6,193 383.6,197.2 384.3,201.3 385,206.2 385.6,210 386.4,214.3 388.4,217.4 391.5,218.9 394.5,220.5 397.6,222.8 399.9,226.6 402.9,227.8 407.5,228.1 409.3,231.5 419.8,231.9 421.1,235.5 439.8,235.6 440.6,237.6 469.5,237.6 470.2,240.2 481.5,240.2 482.6,242.4 508.4,242.4" fill="none" stroke="#bb2450" stroke-width="1.35" stroke-dasharray="3.3 1.9" /><line x1="440.7" y1="218.5" x2="440.7" y2="222.2" stroke="#36558f" stroke-width="0.9"/><line x1="444.3" y1="218.5" x2="444.3" y2="222.2" stroke="#36558f" stroke-width="0.9"/><line x1="445.3" y1="218.5" x2="445.3" y2="222.2" stroke="#36558f" stroke-width="0.9"/><line x1="448.8" y1="218.5" x2="448.8" y2="222.2" stroke="#36558f" stroke-width="0.9"/><line x1="450.3" y1="218.5" x2="450.3" y2="222.2" stroke="#36558f" stroke-width="0.9"/><line x1="451.8" y1="218.5" x2="451.8" y2="222.2" stroke="#36558f" stroke-width="0.9"/><line x1="459.5" y1="218.5" x2="459.5" y2="222.2" stroke="#36558f" stroke-width="0.9"/><line x1="461.5" y1="218.5" x2="461.5" y2="222.2" stroke="#36558f" stroke-width="0.9"/><line x1="463.4" y1="218.5" x2="463.4" y2="222.2" stroke="#36558f" stroke-width="0.9"/><line x1="466.5" y1="218.5" x2="466.5" y2="222.2" stroke="#36558f" stroke-width="0.9"/><line x1="468" y1="218.5" x2="468" y2="222.2" stroke="#36558f" stroke-width="0.9"/><line x1="469.5" y1="218.5" x2="469.5" y2="222.2" stroke="#36558f" stroke-width="0.9"/><line x1="475.3" y1="218.5" x2="475.3" y2="222.2" stroke="#36558f" stroke-width="0.9"/><line x1="486.3" y1="218.5" x2="486.3" y2="222.2" stroke="#36558f" stroke-width="0.9"/><line x1="501.9" y1="218.5" x2="501.9" y2="222.2" stroke="#36558f" stroke-width="0.9"/><line x1="441.5" y1="236" x2="441.5" y2="239.3" stroke="#bb2450" stroke-width="0.85"/><line x1="443" y1="236" x2="443" y2="239.3" stroke="#bb2450" stroke-width="0.85"/><line x1="480.4" y1="238.6" x2="480.4" y2="241.9" stroke="#bb2450" stroke-width="0.85"/></g>
</svg></body></html>
